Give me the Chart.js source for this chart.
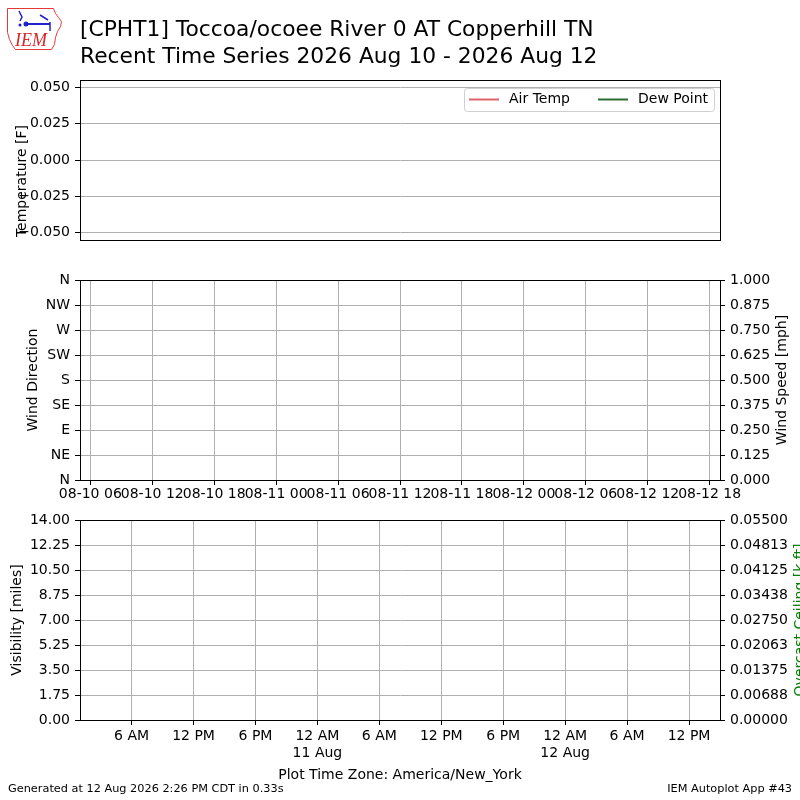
<!DOCTYPE html>
<html><head><meta charset="utf-8">
<script src="https://cdn.jsdelivr.net/npm/chart.js@4"></script>
<style>
html,body{margin:0;padding:0;background:#fff;}
#wrap{position:relative;width:800px;height:800px;overflow:hidden;background:#fff;}
canvas{position:absolute;left:0;}
</style></head><body>
<div id="wrap">
<canvas id="cA" width="800" height="260" style="top:0;width:800px;height:260px"></canvas>
<canvas id="cB" width="800" height="250" style="top:260px;width:800px;height:250px"></canvas>
<canvas id="cC" width="800" height="300" style="top:500px;width:800px;height:300px"></canvas>
</div>
<script>
// ---------------- data ----------------
const stationTitle = '[CPHT1] Toccoa/ocoee River 0 AT Copperhill TN';
const subTitle = 'Recent Time Series 2026 Aug 10 - 2026 Aug 12';
const footerLeft = 'Generated at 12 Aug 2026 2:26 PM CDT in 0.33s';
const footerRight = 'IEM Autoplot App #43';
const tzLabel = 'Plot Time Zone: America/New_York';

// observations (none reported in the period)
const airTemp = [];
const dewPoint = [];
const windDir = [];
const windSpeed = [];
const visibility = [];
const ceiling = [];

const tempTicks = [-0.05, -0.025, 0, 0.025, 0.05];
const tempTickLabels = ['\u22120.050', '\u22120.025', '0.000', '0.025', '0.050'];
const tempRange = [-0.055, 0.055];

const dirTicks = [0, 45, 90, 135, 180, 225, 270, 315, 360];
const dirTickLabels = ['N', 'NE', 'E', 'SE', 'S', 'SW', 'W', 'NW', 'N'];
const speedTicks = [0, 0.125, 0.25, 0.375, 0.5, 0.625, 0.75, 0.875, 1];
const speedTickLabels = ['0.000', '0.125', '0.250', '0.375', '0.500', '0.625', '0.750', '0.875', '1.000'];

const visTicks = [0, 1.75, 3.5, 5.25, 7, 8.75, 10.5, 12.25, 14];
const visTickLabels = ['0.00', '1.75', '3.50', '5.25', '7.00', '8.75', '10.50', '12.25', '14.00'];
const ceilTicks = [0, 0.006875, 0.01375, 0.020625, 0.0275, 0.034375, 0.04125, 0.048125, 0.055];
const ceilTickLabels = ['0.00000', '0.00688', '0.01375', '0.02063', '0.02750', '0.03438', '0.04125', '0.04813', '0.05500'];

// hours since 2026-08-10 00:00 UTC
const utcRange = [5, 67];
const utcHourTicks = [6, 12, 18, 24, 30, 36, 42, 48, 54, 60, 66];
const utcTickLabels = ['08-10 06', '08-10 12', '08-10 18', '08-11 00', '08-11 06', '08-11 12', '08-11 18', '08-12 00', '08-12 06', '08-12 12', '08-12 18'];

// hours since 2026-08-10 00:00 America/New_York
const localRange = [1, 63];
const localHourTicks = [6, 12, 18, 24, 30, 36, 42, 48, 54, 60];
const localTickLabels = [['6 AM'], ['12 PM'], ['6 PM'], ['12 AM', '11 Aug'], ['6 AM'], ['12 PM'], ['6 PM'], ['12 AM', '12 Aug'], ['6 AM'], ['12 PM']];

// ---------------- styling helpers ----------------
const FAM = '"DejaVu Sans", sans-serif';
const FONT = {family: FAM, size: 14};
const GRID = '#b0b0b0';

function yScale(pos, range, ticks, labels, onChart) {
  return {
    type: 'linear', position: pos, min: range[0], max: range[1],
    afterBuildTicks: s => { s.ticks = ticks.map(v => ({value: v})); },
    afterFit: s => { s.width = 80; },
    ticks: {autoSkip: false, padding: 5, color: '#000', font: FONT, callback: (v, i) => labels[i]},
    grid: {display: true, drawOnChartArea: onChart, color: GRID, lineWidth: 1, tickLength: 5, tickColor: '#000', tickWidth: 1},
    border: {display: true, color: '#000', width: 1},
    title: {display: false}
  };
}
function xScale(range, ticks, labels, h, pad) {
  return {
    type: 'linear', position: 'bottom', min: range[0], max: range[1],
    afterBuildTicks: s => { s.ticks = ticks.map(v => ({value: v})); },
    afterFit: s => { s.height = h; },
    ticks: {autoSkip: false, maxRotation: 0, minRotation: 0, padding: pad, color: '#000', font: FONT, callback: (v, i) => labels[i]},
    grid: {display: true, color: GRID, lineWidth: 1, tickLength: 5, tickColor: '#000', tickWidth: 1},
    border: {display: true, color: '#000', width: 1}
  };
}
function vText(ctx, text, x, y, color, rot) {
  ctx.save();
  ctx.translate(x, y);
  ctx.rotate(rot);
  ctx.fillStyle = color;
  ctx.font = '14px ' + FAM;
  ctx.textAlign = 'center';
  ctx.textBaseline = 'middle';
  ctx.fillText(text, 0, 0);
  ctx.restore();
}
const framePlugin = {
  id: 'frame',
  afterDraw(chart) {
    const a = chart.chartArea, ctx = chart.ctx;
    ctx.save();
    ctx.strokeStyle = '#000';
    ctx.lineWidth = 1;
    ctx.strokeRect(Math.round(a.left) + 0.5, Math.round(a.top) + 0.5, Math.round(a.right - a.left), Math.round(a.bottom - a.top));
    ctx.restore();
  }
};
const titlesPlugin = {
  id: 'titles',
  afterDraw(chart, args, opts) {
    const ctx = chart.ctx;
    (opts.items || []).forEach(t => vText(ctx, t.text, t.x, t.y, t.color || '#000', t.rot));
  }
};

function drawLogo(ctx) {
  ctx.save();
  ctx.strokeStyle = '#e23a3a';
  ctx.lineWidth = 1;
  const pts = [[7,8],[53,8],[55,13],[58,17],[61,21],[60,26],[57,31],[55,37],[54,44],[51,49],[15,49],[12,45],[9,39],[7,32]];
  ctx.beginPath();
  pts.forEach((p, i) => i ? ctx.lineTo(p[0] + 0.5, p[1] + 0.5) : ctx.moveTo(p[0] + 0.5, p[1] + 0.5));
  ctx.closePath();
  ctx.stroke();
  ctx.fillStyle = '#d62828';
  ctx.font = 'italic 18px "Liberation Serif", serif';
  ctx.textAlign = 'left';
  ctx.textBaseline = 'alphabetic';
  ctx.fillText('IEM', 15, 46);
  ctx.strokeStyle = '#2222cc';
  ctx.fillStyle = '#2222cc';
  ctx.lineWidth = 2;
  ctx.beginPath(); ctx.moveTo(26, 24); ctx.lineTo(50, 24); ctx.stroke();
  ctx.beginPath(); ctx.arc(26, 24, 2.5, 0, Math.PI * 2); ctx.fill();
  ctx.lineWidth = 1.5;
  ctx.beginPath(); ctx.moveTo(19, 11); ctx.lineTo(22, 17); ctx.lineTo(20, 21); ctx.stroke();
  ctx.beginPath(); ctx.moveTo(40, 15); ctx.lineTo(48, 20); ctx.stroke();
  ctx.beginPath(); ctx.moveTo(50, 22); ctx.lineTo(50, 31); ctx.stroke();
  ctx.beginPath(); ctx.arc(20, 25, 1.5, 0, Math.PI * 2); ctx.fill();
  ctx.restore();
}

const headerPlugin = {
  id: 'header',
  afterDraw(chart) {
    const ctx = chart.ctx;
    ctx.save();
    drawLogo(ctx);
    ctx.fillStyle = '#000';
    ctx.font = '21.8px ' + FAM;
    ctx.textAlign = 'left';
    ctx.textBaseline = 'middle';
    ctx.fillText(stationTitle, 80, 30);
    ctx.fillText(subTitle, 80, 57);
    ctx.restore();
  }
};
const legendPlugin = {
  id: 'boxLegend',
  afterDraw(chart) {
    const ctx = chart.ctx;
    const x0 = 464.5, y0 = 88.5, w = 250, h = 23, r = 3;
    ctx.save();
    ctx.fillStyle = 'rgba(255,255,255,0.8)';
    ctx.strokeStyle = '#d0d0d0';
    ctx.lineWidth = 1;
    ctx.beginPath();
    ctx.roundRect(x0, y0, w, h, r);
    ctx.fill();
    ctx.stroke();
    const starts = [469, 598];
    ctx.font = '14px ' + FAM;
    ctx.textBaseline = 'middle';
    ctx.textAlign = 'left';
    chart.data.datasets.forEach((ds, i) => {
      const sx = starts[i];
      ctx.strokeStyle = ds.borderColor;
      ctx.lineWidth = 2;
      ctx.beginPath(); ctx.moveTo(sx, 99.5); ctx.lineTo(sx + 30, 99.5); ctx.stroke();
      ctx.fillStyle = '#000';
      ctx.fillText(ds.label, sx + 40, 99.5);
    });
    ctx.restore();
  }
};
const footerPlugin = {
  id: 'footer',
  afterDraw(chart) {
    const ctx = chart.ctx;
    ctx.save();
    ctx.fillStyle = '#000';
    ctx.textBaseline = 'middle';
    ctx.font = '14px ' + FAM;
    ctx.textAlign = 'center';
    ctx.fillText(tzLabel, 400, 275);
    ctx.font = '11.3px ' + FAM;
    ctx.textAlign = 'left';
    ctx.fillText(footerLeft, 8, 289);
    ctx.textAlign = 'right';
    ctx.fillText(footerRight, 792, 289);
    ctx.restore();
  }
};

const base = {
  responsive: false, animation: false, devicePixelRatio: 1,
  plugins: {legend: {display: false}, tooltip: {enabled: false}}
};

// ---------------- top: temperature ----------------
new Chart(document.getElementById('cA'), {
  type: 'line',
  data: {datasets: [
    {label: 'Air Temp', data: airTemp, borderColor: '#e0626a', borderWidth: 2, pointRadius: 0, yAxisID: 'y'},
    {label: 'Dew Point', data: dewPoint, borderColor: '#2e6b2e', borderWidth: 2, pointRadius: 0, yAxisID: 'y'}
  ]},
  options: Object.assign({}, base, {
    layout: {padding: {top: 80, bottom: 20, left: 0, right: 80}},
    scales: {
      x: {type: 'linear', min: utcRange[0], max: utcRange[1], display: false},
      y: yScale('left', tempRange, tempTicks, tempTickLabels, true)
    },
    plugins: {legend: {display: false}, tooltip: {enabled: false},
      titles: {items: [{text: 'Temperature [F]', x: 22, y: 181, rot: -Math.PI / 2}]}}
  }),
  plugins: [framePlugin, titlesPlugin, headerPlugin, legendPlugin]
});

// ---------------- middle: wind ----------------
new Chart(document.getElementById('cB'), {
  type: 'line',
  data: {datasets: [
    {label: 'Wind Direction', data: windDir, borderColor: '#000', showLine: false, pointRadius: 2, yAxisID: 'y'},
    {label: 'Wind Speed', data: windSpeed, borderColor: '#00f', pointRadius: 0, yAxisID: 'y1'}
  ]},
  options: Object.assign({}, base, {
    layout: {padding: {top: 20, bottom: 0, left: 0, right: 0}},
    scales: {
      x: xScale(utcRange, utcHourTicks, utcTickLabels, 30, 1),
      y: yScale('left', [0, 360], dirTicks, dirTickLabels, true),
      y1: yScale('right', [0, 1], speedTicks, speedTickLabels, false)
    },
    plugins: {legend: {display: false}, tooltip: {enabled: false},
      titles: {items: [
        {text: 'Wind Direction', x: 33, y: 120, rot: -Math.PI / 2},
        {text: 'Wind Speed [mph]', x: 782, y: 120, rot: -Math.PI / 2}
      ]}}
  }),
  plugins: [framePlugin, titlesPlugin]
});

// ---------------- bottom: visibility / ceiling ----------------
new Chart(document.getElementById('cC'), {
  type: 'line',
  data: {datasets: [
    {label: 'Visibility', data: visibility, borderColor: '#000', pointRadius: 0, yAxisID: 'y'},
    {label: 'Overcast Ceiling', data: ceiling, borderColor: 'green', pointRadius: 0, yAxisID: 'y1'}
  ]},
  options: Object.assign({}, base, {
    layout: {padding: {top: 20, bottom: 30, left: 0, right: 0}},
    scales: {
      x: xScale(localRange, localHourTicks, localTickLabels, 50, 3),
      y: yScale('left', [0, 14], visTicks, visTickLabels, true),
      y1: yScale('right', [0, 0.055], ceilTicks, ceilTickLabels, false)
    },
    plugins: {legend: {display: false}, tooltip: {enabled: false},
      titles: {items: [
        {text: 'Visibility [miles]', x: 17, y: 120, rot: -Math.PI / 2},
        {text: 'Overcast Ceiling [k ft]', x: 800, y: 120, rot: -Math.PI / 2, color: 'green'}
      ]}}
  }),
  plugins: [framePlugin, titlesPlugin, footerPlugin]
});
</script>
</body></html>
